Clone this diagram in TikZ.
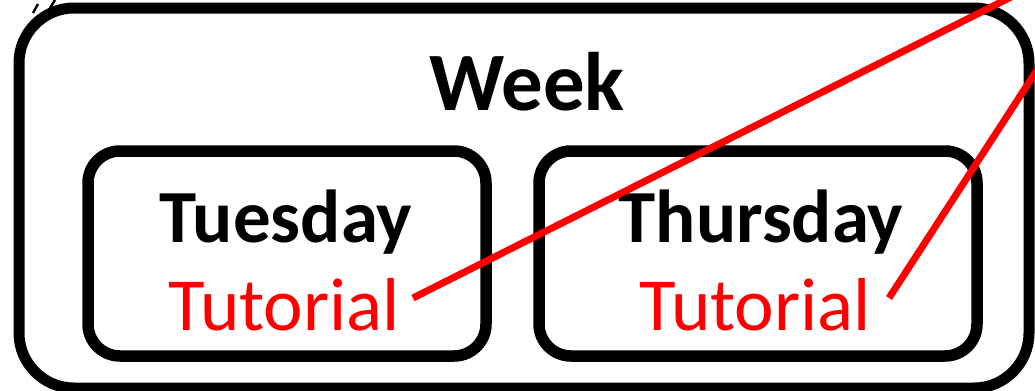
\documentclass[tikz,border=0pt]{standalone}
\usepackage{fontspec}
\setmainfont{Carlito}
\begin{document}
\begin{tikzpicture}[x=0.5pt,y=-0.5pt,
  outerbox/.style={draw=black,line width=5.5pt,rounded corners=27.5pt,inner sep=0pt},
  daybox/.style={draw=black,line width=5.75pt,rounded corners=16pt,inner sep=0pt,minimum height=102.5pt},
  title/.style={font=\fontsize{37.5}{40}\selectfont\bfseries,anchor=base,inner sep=0pt},
  bigtitle/.style={font=\fontsize{41.5}{44}\selectfont\bfseries,anchor=base,inner sep=0pt},
  tut/.style={font=\fontsize{37.5}{40}\selectfont,text=red,anchor=base,inner sep=0pt},
  link/.style={draw=red,line width=3.5pt},
  tick/.style={draw=black,line width=1.2pt}]
\useasboundingbox (0,0) rectangle (1035,391);
\clip (0,0) rectangle (1035,391);
\node[outerbox,minimum width=505pt,minimum height=190pt] (week) at (524,198) {};
\node[daybox,minimum width=199pt] (tue) at (287,253.5) {};
\node[daybox,minimum width=219pt] (thu) at (758,253.5) {};
\node[bigtitle] (weekt) at (527,110) {Week};
\node[title] (tuet) at (286,242) {Tuesday};
\node[title] (thut) at (761,242) {Thursday};
\node[tut] (tut1) at (284,330) {Tutorial};
\node[tut] (tut2) at (755,330) {Tutorial};
\coordinate (s1) at (413,298);
\coordinate (e1) at (1025,-10);
\coordinate (s2) at (889,298);
\coordinate (e2) at (1050,50);
\draw[link] (s1) -- (e1);
\draw[link] (s2) -- (e2);
\coordinate (k1) at (38,4);
\coordinate (k2) at (33,13);
\coordinate (k3) at (55,0);
\coordinate (k4) at (50,8);
\draw[tick] (k1) -- (k2);
\draw[tick] (k3) -- (k4);
\end{tikzpicture}
\end{document}
